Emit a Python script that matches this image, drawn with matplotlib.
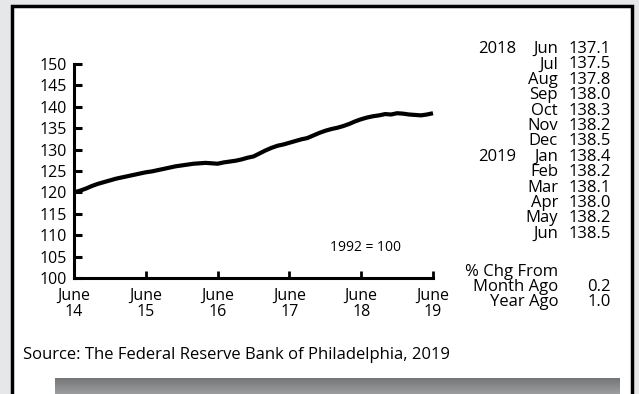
import matplotlib
matplotlib.use("Agg")
import numpy as np
from matplotlib import pyplot as plt
from matplotlib.patches import Rectangle

plt.rcParams['font.family'] = ['Open Sans', 'DejaVu Sans']

# monthly index, June 2014 .. June 2019 (1992 = 100)
index_values = [
    120.0, 120.4, 120.9, 121.5, 122.0, 122.4, 122.8, 123.2, 123.5, 123.8,
    124.1, 124.4, 124.7, 124.9, 125.2, 125.5, 125.8, 126.1, 126.3, 126.5,
    126.7, 126.8, 126.9, 126.8, 126.7, 127.0, 127.2, 127.4, 127.7, 128.1,
    128.4, 129.1, 129.8, 130.4, 130.9, 131.2, 131.6, 132.0, 132.4, 132.7,
    133.3, 133.9, 134.4, 134.8, 135.1, 135.5, 136.0, 136.6,
    137.1, 137.5, 137.8, 138.0, 138.3, 138.2, 138.5, 138.4, 138.2, 138.1,
    138.0, 138.2, 138.5,
]
x_tick_labels = ["June\n14", "June\n15", "June\n16", "June\n17", "June\n18", "June\n19"]
y_ticks = [100, 105, 110, 115, 120, 125, 130, 135, 140, 145, 150]

table_years = ["2018", "", "", "", "", "", "", "2019", "", "", "", "", ""]
table_months = ["Jun", "Jul", "Aug", "Sep", "Oct", "Nov", "Dec",
                "Jan", "Feb", "Mar", "Apr", "May", "Jun"]
table_values = ["137.1", "137.5", "137.8", "138.0", "138.3", "138.2", "138.5",
                "138.4", "138.2", "138.1", "138.0", "138.2", "138.5"]
chg_labels = ["Month Ago", "Year Ago"]
chg_values = ["0.2", "1.0"]

W, H = 639, 394
fig = plt.figure(figsize=(W / 100, H / 100), dpi=100)
fig.patch.set_facecolor('#e6e7e8')


def fx(px):
    return px / W


def fy(py):
    return 1 - py / H


# white panel with black frame (open at the bottom)
fig.patches.append(Rectangle((fx(12), fy(420)), fx(620), (420 - 6) / H,
                             transform=fig.transFigure, facecolor='white',
                             edgecolor='black', linewidth=2.5, zorder=-5))

# gradient bar at the bottom
gax = fig.add_axes([fx(55), 0, fx(565), 16 / H])
grad = np.linspace(0, 1, 50).reshape(-1, 1)
gax.imshow(grad, aspect='auto', cmap=matplotlib.colors.LinearSegmentedColormap.from_list(
    'g', ['#757678', '#9c9d9f']), extent=[0, 1, 0, 1])
gax.axis('off')

ax = fig.add_axes([fx(74), fy(278), fx(433 - 74), (278 - 64) / H])
ax.set_facecolor('none')
ax.plot(range(len(index_values)), index_values, color='black', linewidth=3,
        solid_joinstyle='round', solid_capstyle='butt', clip_on=False)
ax.set_xlim(0, 60)
ax.set_ylim(100, 150)
ax.set_xticks(range(0, 61, 12))
ax.set_xticklabels(x_tick_labels, fontsize=11.5, linespacing=1.02)
ax.set_yticks(y_ticks)
ax.set_yticklabels([str(v) for v in y_ticks], fontsize=11.5)
for s in ['top', 'right']:
    ax.spines[s].set_visible(False)
for s in ['left', 'bottom']:
    ax.spines[s].set_linewidth(2.2)
ax.tick_params(axis='y', direction='in', length=6, width=2.2, pad=5)
ax.tick_params(axis='x', direction='in', length=5, width=2, pad=7)

fig.text(fx(365), fy(247), "1992 = 100", fontsize=10, ha='center', va='center')

# side table
row_h = 15.4
for i in range(len(table_months)):
    yy = H - (49 + i * row_h)
    if table_years[i]:
        fig.text(fx(478), yy / H, table_years[i], fontsize=12, ha='left', va='center')
    fig.text(fx(558), yy / H, table_months[i], fontsize=12, ha='right', va='center')
    fig.text(fx(611), yy / H, table_values[i], fontsize=12, ha='right', va='center')

fig.text(fx(558), fy(272), "% Chg From", fontsize=12, ha='right', va='center')
for i in range(len(chg_labels)):
    yy = fy(287 + i * row_h)
    fig.text(fx(558), yy, chg_labels[i], fontsize=12, ha='right', va='center')
    fig.text(fx(611), yy, chg_values[i], fontsize=12, ha='right', va='center')

fig.text(fx(23), fy(355), "Source: The Federal Reserve Bank of Philadelphia, 2019",
         fontsize=12, ha='left', va='center')

fig.savefig('out.png', dpi=100, facecolor=fig.get_facecolor())
